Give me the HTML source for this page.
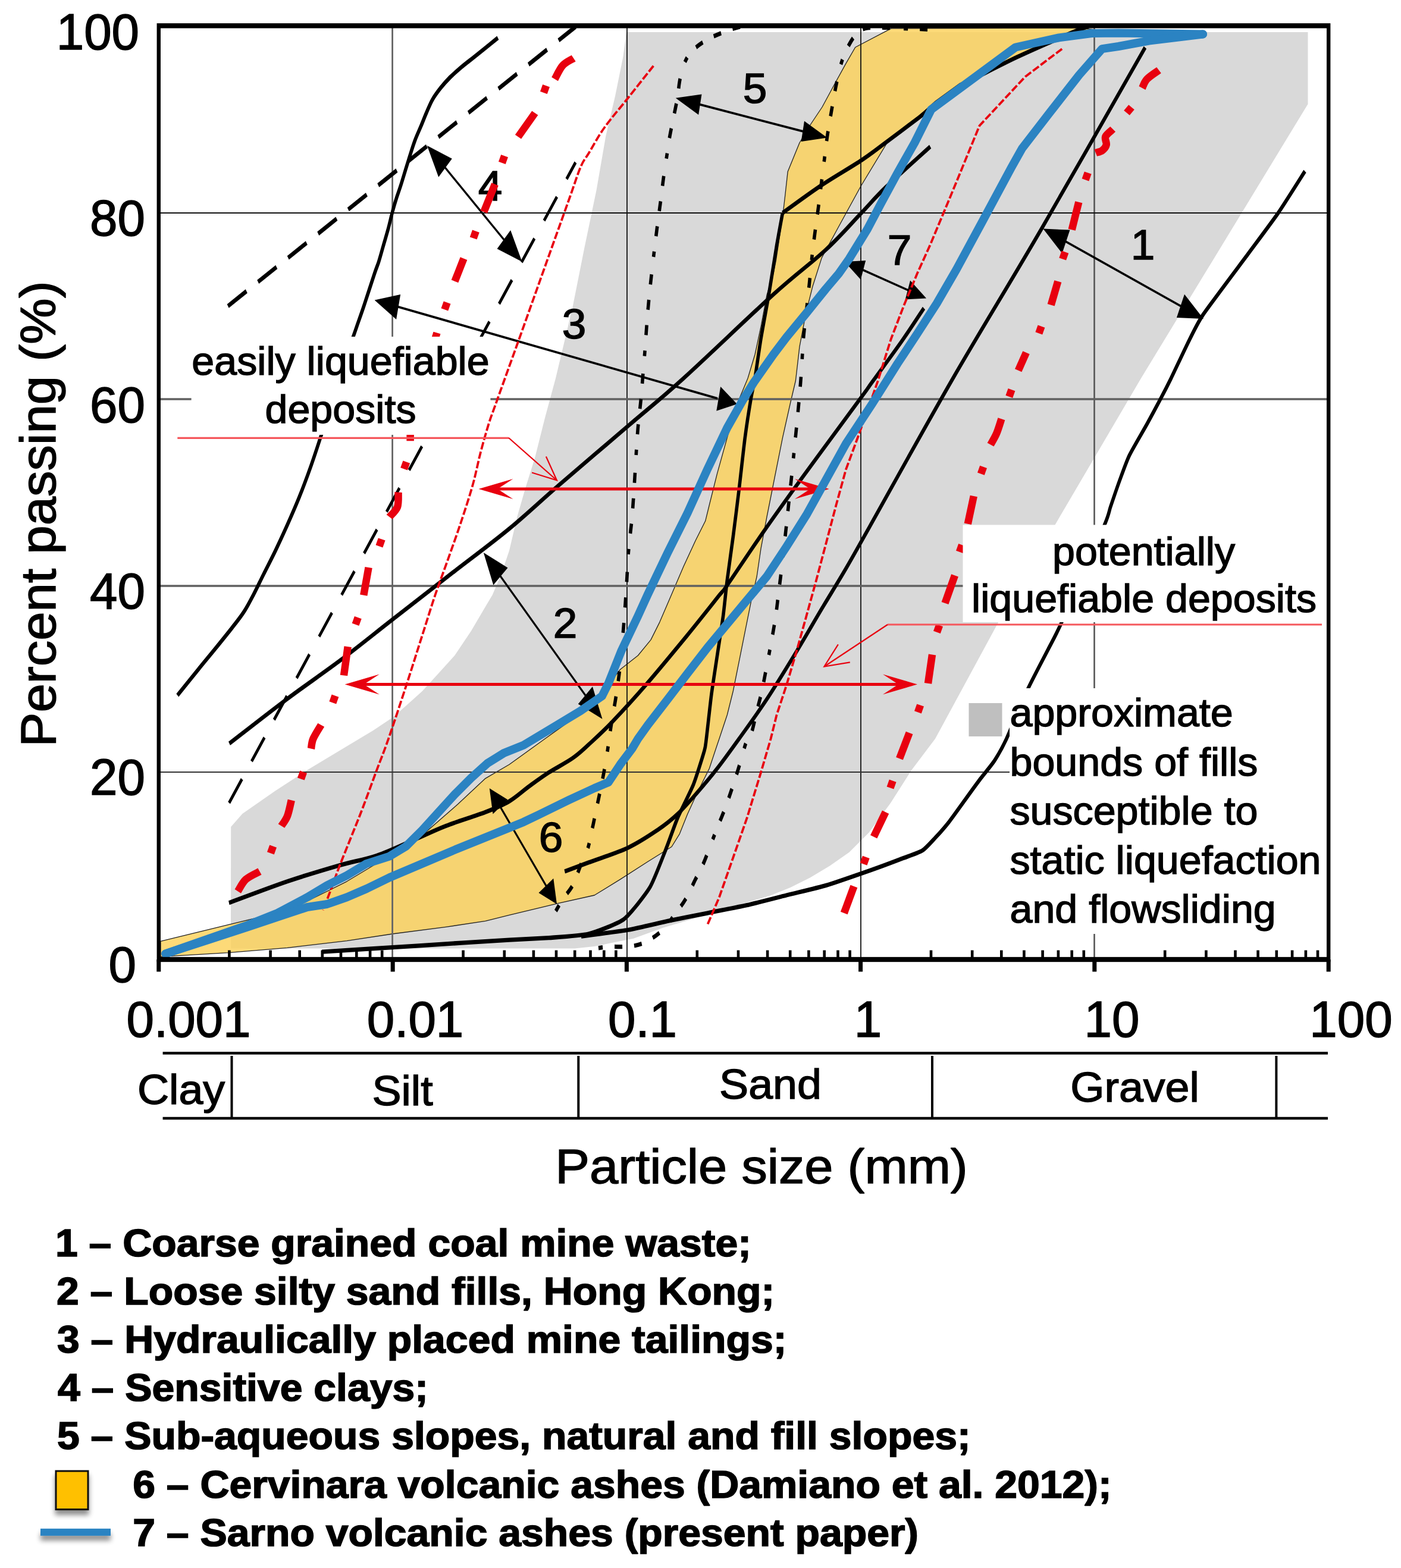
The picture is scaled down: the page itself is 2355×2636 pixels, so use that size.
<!DOCTYPE html>
<html lang="en">
<head>
<meta charset="utf-8">
<title>Grain size distribution - liquefiable deposits</title>
<style>
html,body{margin:0;padding:0;background:#fff;}
body{width:2355px;height:2636px;overflow:hidden;}
svg{display:block;}
text{font-family:"Liberation Sans",Arial,Helvetica,sans-serif;fill:#000;stroke:#000;stroke-width:1.5px;stroke-linejoin:miter;stroke-miterlimit:2;}
.b{font-weight:bold;stroke-width:1.7px;}
</style>
</head>
<body>
<svg width="2355" height="2636" viewBox="0 0 2355 2636">
<rect x="0" y="0" width="2355" height="2636" fill="#fff"/>
<polygon points="1053.0,54.0 2198.5,54.0 2198.5,175.0 1918.0,636.0 1773.4,882.4 1675.0,1052.0 1572.0,1242.0 1532.0,1295.0 1497.0,1350.0 1460.5,1399.8 1427.5,1432.8 1394.6,1455.8 1361.6,1475.6 1328.6,1492.0 1295.6,1505.3 1229.7,1525.0 1163.8,1544.9 1114.3,1559.7 1064.9,1577.8 998.9,1591.0 966.0,1594.5 388.0,1594.5 388.2,1390.0 407.5,1368.0 462.4,1329.7 517.4,1294.0 572.3,1261.0 627.3,1228.0 660.2,1206.0 682.2,1186.8 709.7,1162.0 737.1,1131.9 764.6,1101.6 792.1,1060.4 819.6,1013.7 827.8,1000.0 842.7,965.0 856.0,925.7 869.3,869.0 882.6,822.5 899.3,769.0 916.0,702.6 934.0,636.0 962.6,516.0 982.5,416.0 1002.5,320.0 1018.5,227.7 1034.0,161.8 1047.3,96.0" fill="#d9d9d9"/>
<polygon points="270.0,1582.3 429.8,1543.4 516.4,1515.0 583.0,1481.8 649.6,1441.8 716.2,1398.5 769.5,1352.0 816.0,1308.6 856.0,1285.3 916.0,1242.0 939.2,1225.4 972.5,1202.0 1002.5,1175.5 1019.2,1155.5 1042.5,1125.5 1072.4,1102.0 1094.0,1075.6 1109.0,1045.6 1129.0,999.0 1149.0,952.3 1169.0,909.0 1185.7,875.8 1192.3,849.0 1205.6,795.8 1222.3,735.9 1239.0,679.3 1257.0,636.0 1269.0,596.0 1279.0,549.5 1289.0,496.0 1300.0,459.8 1304.4,437.8 1311.0,393.8 1316.5,356.5 1319.8,328.0 1324.2,288.4 1344.0,240.0 1362.0,210.0 1382.0,180.0 1402.0,143.0 1422.0,106.6 1437.7,79.5 1498.0,47.9 1808.0,47.0 1844.0,50.0 1808.6,52.0 1764.6,68.5 1709.7,93.2 1654.7,120.7 1613.5,140.0 1572.3,170.0 1544.8,194.8 1491.2,240.0 1447.3,312.5 1409.9,380.7 1381.3,433.4 1365.9,481.8 1354.9,525.7 1344.0,582.9 1337.4,640.0 1328.9,676.0 1315.5,735.9 1302.2,802.5 1289.0,869.0 1279.0,922.4 1272.2,969.0 1262.3,1012.3 1252.3,1062.2 1242.3,1112.2 1232.3,1162.0 1222.3,1202.0 1209.0,1242.0 1205.6,1252.0 1192.3,1292.0 1172.4,1332.0 1155.7,1368.5 1142.4,1401.8 1129.0,1423.5 1089.0,1448.5 1042.5,1478.4 999.2,1505.0 939.2,1518.4 856.0,1538.4 816.0,1548.4 749.5,1558.4 659.6,1570.0 583.0,1581.7 483.0,1593.3 383.2,1601.6 270.0,1608.3" fill="#fcd156" fill-opacity="0.8" stroke="#222" stroke-width="1.3" stroke-linejoin="round"/>
<line x1="659.6" y1="43.3" x2="659.6" y2="1613.0" stroke="#666" stroke-width="2.8"/>
<line x1="1054.0" y1="43.3" x2="1054.0" y2="1613.0" stroke="#111" stroke-width="1.8"/>
<line x1="1447.0" y1="43.3" x2="1447.0" y2="1613.0" stroke="#111" stroke-width="1.8"/>
<line x1="1839.5" y1="43.3" x2="1839.5" y2="1613.0" stroke="#555" stroke-width="2.6"/>
<line x1="266.8" y1="358.0" x2="2233.2" y2="358.0" stroke="#111" stroke-width="1.9"/>
<line x1="266.8" y1="671.0" x2="2233.2" y2="671.0" stroke="#606060" stroke-width="3.4"/>
<line x1="266.8" y1="985.0" x2="2233.2" y2="985.0" stroke="#606060" stroke-width="3.4"/>
<line x1="266.8" y1="1298.0" x2="2233.2" y2="1298.0" stroke="#333" stroke-width="2.1"/>
<path transform="scale(1 1.3)" d="M836.9 48.9 C833.3 51.2 822.1 58.2 815.2 62.5 C808.3 66.7 802.1 70.6 795.6 74.6 C789.1 78.6 782.5 82.3 776.0 86.6 C769.5 90.9 762.2 95.7 756.3 100.2 C750.4 104.8 745.5 109.1 740.6 113.8 C735.7 118.6 730.8 123.6 726.9 128.9 C723.0 134.2 720.3 139.7 717.0 145.5 C713.7 151.3 710.6 157.7 707.3 163.7 C704.0 169.7 700.3 175.7 697.4 181.8 C694.5 187.8 692.2 193.7 689.6 200.0 C687.0 206.3 684.3 213.0 681.7 219.5 C679.1 226.1 676.5 232.9 673.9 239.2 C671.3 245.5 668.5 251.3 666.0 257.3 C663.5 263.3 661.5 268.8 659.2 275.4 C656.9 281.9 654.8 289.6 652.3 296.6 C649.8 303.7 647.0 310.7 644.4 317.7 C641.8 324.7 639.1 332.4 636.6 338.5 C634.1 344.5 633.6 344.4 629.5 353.8 C625.4 363.3 616.7 384.1 611.8 395.4 C606.9 406.7 603.1 414.6 600.0 421.5 C596.9 428.5 594.2 434.4 593.0 436.9" fill="none" stroke="#000" stroke-width="5.6" />
<path transform="scale(1 1.3)" d="M542.0 558.5 C541.6 559.3 542.9 556.3 539.7 563.5 C536.5 570.8 529.1 588.7 523.0 601.9 C516.9 615.2 509.7 630.1 503.0 642.9 C496.3 655.7 489.7 667.2 483.0 678.8 C476.3 690.3 469.7 701.4 463.0 712.1 C456.3 722.8 449.1 733.4 443.0 742.8 C436.9 752.2 432.0 760.3 426.5 768.5 C421.0 776.6 415.9 784.3 409.8 791.5 C403.7 798.8 397.7 804.3 389.9 812.0 C382.1 819.7 372.6 828.7 363.2 837.6 C353.8 846.6 344.0 855.5 333.2 865.8 C322.4 876.0 304.1 893.5 298.3 899.1" fill="none" stroke="#000" stroke-width="5.6" />
<path transform="scale(1 1.3)" d="M1830.5 33.6 C1826.8 34.7 1819.6 36.5 1808.6 40.0 C1797.6 43.5 1781.1 49.1 1764.6 54.8 C1748.1 60.4 1728.0 67.2 1709.7 73.8 C1691.4 80.5 1670.7 88.6 1654.7 94.9 C1638.7 101.3 1627.2 105.2 1613.5 111.8 C1599.8 118.5 1583.8 128.4 1572.3 135.1 C1560.8 141.8 1558.5 143.9 1544.8 152.0 C1531.1 160.1 1505.9 174.5 1489.9 183.7 C1473.9 192.8 1467.0 197.5 1448.7 206.9 C1430.4 216.3 1402.2 228.6 1380.0 240.0 C1357.8 251.4 1326.2 269.5 1315.5 275.4" fill="none" stroke="#000" stroke-width="5.6" />
<path transform="scale(1 1.3)" d="M1315.5 275.4 C1314.5 279.6 1307.8 307.1 1305.5 317.7 C1303.2 328.3 1294.9 369.5 1292.2 381.5 C1289.5 393.6 1281.3 427.3 1279.0 438.1 C1276.7 448.8 1270.7 481.5 1269.0 489.2 C1267.3 497.0 1264.0 507.7 1262.3 515.4 C1260.6 523.1 1254.3 554.3 1252.3 566.1 C1250.3 577.8 1244.3 619.9 1242.3 632.7 C1240.3 645.5 1234.3 682.4 1232.3 694.2 C1230.3 705.9 1224.0 740.3 1222.3 750.5 C1220.6 760.8 1217.3 786.9 1215.6 796.6 C1213.9 806.3 1207.6 837.6 1205.6 847.8 C1203.6 858.1 1197.5 888.3 1195.7 899.1 C1193.9 909.8 1188.5 948.2 1187.3 955.4 C1186.1 962.6 1186.2 964.9 1184.0 970.8 C1181.8 976.7 1170.2 1005.6 1165.7 1014.3 C1161.2 1023.0 1143.7 1049.4 1139.0 1057.8 C1134.3 1066.3 1123.7 1089.9 1119.0 1098.8 C1114.3 1107.8 1099.4 1138.5 1092.4 1147.5 C1085.4 1156.4 1059.3 1182.4 1049.0 1188.5 C1038.7 1194.5 1001.8 1205.3 989.2 1207.7 C976.6 1210.1 935.9 1212.0 922.6 1212.8 C909.3 1213.5 878.3 1214.4 856.0 1215.4 C833.7 1216.4 731.5 1221.5 700.0 1223.1 C668.5 1224.6 556.9 1230.0 541.0 1230.8" fill="none" stroke="#000" stroke-width="5.6" stroke-linejoin="round"/>
<path transform="scale(1 1.3)" d="M385.5 961.5 C401.5 952.0 450.5 922.4 481.6 904.5 C512.7 886.5 542.5 871.0 572.3 853.8 C602.1 836.5 629.2 819.5 660.2 800.9 C691.2 782.3 725.4 761.8 758.0 742.3 C790.6 722.8 825.8 703.0 856.0 683.8 C886.2 664.7 906.0 649.7 939.3 627.5 C972.6 605.4 1020.8 573.8 1055.8 550.8 C1090.8 527.7 1108.3 517.6 1149.0 489.2 C1189.7 460.9 1260.2 408.4 1300.0 380.8 C1339.8 353.1 1363.4 340.7 1387.9 323.2 C1412.5 305.8 1430.5 289.4 1447.3 275.9 C1464.1 262.4 1469.6 256.4 1489.0 242.1 C1508.4 227.7 1551.2 198.4 1563.7 189.7" fill="none" stroke="#000" stroke-width="5.6" />
<path transform="scale(1 1.3)" d="M384.9 1167.5 C401.2 1162.9 452.2 1147.9 483.0 1139.8 C513.8 1131.8 544.7 1124.8 569.7 1119.2 C594.7 1113.7 611.9 1112.1 633.0 1106.5 C654.1 1101.0 676.8 1092.4 696.2 1086.0 C715.6 1079.6 729.5 1074.1 749.5 1068.1 C769.5 1062.1 798.2 1055.5 816.0 1050.2 C833.8 1044.8 843.8 1041.7 856.0 1036.2 C868.2 1030.6 878.2 1023.1 889.3 1016.9 C900.4 1010.7 910.4 1005.0 922.6 998.9 C934.8 992.9 951.3 986.5 962.4 980.5 C973.5 974.6 978.2 970.8 989.2 963.1 C1000.2 955.3 1012.3 947.0 1028.4 934.1 C1044.5 921.1 1065.0 904.1 1086.0 885.4 C1107.0 866.7 1134.1 841.4 1154.7 822.1 C1175.3 802.7 1198.4 780.1 1209.7 769.2 C1221.0 758.4 1210.2 770.3 1222.3 756.9 C1234.4 743.6 1261.1 712.3 1282.2 689.0 C1303.3 665.7 1321.5 646.2 1348.8 617.3 C1376.1 588.4 1426.3 536.3 1446.0 515.6 C1465.7 494.9 1455.1 505.8 1467.0 493.1 C1478.9 480.4 1503.1 455.3 1517.4 439.5 C1531.7 423.8 1547.1 405.3 1553.0 398.5" fill="none" stroke="#000" stroke-width="5.6" />
<path transform="scale(1 1.3)" d="M1924.9 61.5 C1896.0 100.4 1805.5 223.3 1751.7 294.6 C1697.9 365.9 1650.2 424.9 1601.9 489.2 C1553.6 553.6 1492.0 639.8 1462.0 680.8 C1432.0 721.8 1435.3 717.6 1422.0 735.2 C1408.7 752.8 1395.9 768.5 1382.0 786.4 C1368.1 804.3 1354.3 823.1 1338.8 842.7 C1323.3 862.3 1305.1 885.4 1289.0 904.2 C1272.9 923.0 1256.2 940.4 1242.3 955.4 C1228.4 970.3 1217.2 982.3 1205.6 993.8 C1193.9 1005.4 1183.5 1014.8 1172.4 1024.6 C1161.3 1034.4 1150.1 1044.6 1139.0 1052.7 C1127.9 1060.8 1119.7 1065.8 1105.8 1073.1 C1091.9 1080.3 1075.2 1089.1 1055.8 1096.2 C1036.4 1103.2 1007.0 1110.3 989.2 1115.4 C971.4 1120.5 955.9 1125.0 949.2 1126.9" fill="none" stroke="#000" stroke-width="5.6" />
<path transform="scale(1 1.3)" d="M2193.5 221.5 C2189.0 226.9 2158.1 264.8 2148.6 275.4 C2139.1 286.0 2111.3 314.5 2098.6 327.7 C2085.9 340.9 2032.3 395.5 2022.0 407.3 C2011.7 419.1 2000.8 437.5 1995.4 445.7 C1990.1 453.9 1972.9 482.3 1968.5 489.2 C1964.1 496.1 1955.5 509.0 1951.5 514.8 C1947.5 520.7 1933.5 540.7 1928.2 548.2 C1922.9 555.6 1902.9 581.7 1898.2 589.2 C1893.5 596.6 1884.8 615.7 1881.6 622.3 C1878.4 629.0 1869.1 650.0 1866.6 655.7 C1864.1 661.3 1864.9 663.6 1856.6 678.8 C1848.3 693.9 1792.8 790.8 1783.3 806.9 C1773.8 823.0 1767.2 831.7 1761.7 840.0 C1756.2 848.3 1735.4 878.5 1728.4 890.0 C1721.4 901.5 1697.5 946.0 1691.8 955.4 C1686.1 964.7 1676.1 978.4 1671.8 983.5 C1667.5 988.7 1653.5 1001.5 1648.5 1006.6 C1643.5 1011.7 1627.1 1029.1 1621.8 1034.8 C1616.5 1040.4 1600.2 1058.1 1595.2 1062.9 C1590.2 1067.8 1576.5 1079.8 1572.0 1083.5 C1567.5 1087.2 1556.2 1097.2 1550.2 1100.0 C1544.2 1102.8 1520.8 1109.0 1512.0 1111.5 C1503.2 1114.1 1474.3 1122.4 1462.0 1125.7 C1449.7 1129.0 1402.8 1141.7 1388.8 1144.9 C1374.8 1148.1 1335.3 1155.1 1322.0 1157.7 C1308.7 1160.3 1268.9 1168.2 1255.6 1170.5 C1242.3 1172.8 1202.3 1178.7 1189.0 1180.8 C1175.7 1182.8 1135.7 1188.9 1122.4 1191.1 C1109.1 1193.3 1070.3 1200.6 1055.8 1202.5 C1041.3 1204.5 984.9 1209.9 977.0 1210.8" fill="none" stroke="#000" stroke-width="5.6" stroke-linejoin="round"/>
<path transform="scale(1 1.3)" d="M383.2 395.8 L967.5 34.6" fill="none" stroke="#000" stroke-width="5.7" stroke-dasharray="36.6 22.8"/>
<path transform="scale(1 1.3)" d="M967.5 210.0 L384.9 1038.6" fill="none" stroke="#000" stroke-width="4.5" stroke-dasharray="37.6 28.15" stroke-dashoffset="11.3"/>
<path transform="scale(1 1.3)" d="M1244.0 34.6 C1240.4 35.5 1231.5 36.9 1222.3 39.7 C1213.1 42.5 1199.0 46.7 1189.0 51.2 C1179.0 55.7 1169.1 61.1 1162.4 66.6 C1155.7 72.2 1152.3 78.2 1149.0 84.6 C1145.7 91.0 1144.1 98.3 1142.4 105.1 C1140.7 111.9 1140.7 117.9 1139.0 125.5 C1137.3 133.2 1134.6 142.6 1132.4 151.2 C1130.2 159.7 1127.7 168.2 1125.7 176.8 C1123.8 185.3 1122.4 193.8 1120.7 202.3 C1119.0 210.8 1117.4 218.6 1115.7 228.0 C1114.0 237.4 1112.4 248.9 1110.7 258.8 C1109.0 268.6 1107.5 277.1 1105.8 286.9 C1104.1 296.7 1102.5 307.1 1100.8 317.7 C1099.1 328.3 1097.5 339.2 1095.8 350.8 C1094.1 362.3 1092.2 375.8 1090.8 386.9 C1089.4 398.1 1088.5 406.6 1087.4 417.7 C1086.3 428.8 1085.2 442.3 1084.1 453.4 C1083.0 464.5 1081.9 473.7 1080.8 484.2 C1079.7 494.6 1078.8 504.7 1077.4 516.2 C1076.0 527.6 1073.8 540.5 1072.4 553.1 C1071.0 565.6 1070.1 578.3 1069.0 591.5 C1067.9 604.8 1066.9 619.9 1065.8 632.7 C1064.7 645.5 1063.6 658.3 1062.5 668.5 C1061.4 678.7 1060.1 685.3 1059.0 693.8 C1057.9 702.4 1056.6 711.2 1055.8 719.8 C1055.0 728.4 1054.8 734.7 1054.0 745.4 C1053.2 756.1 1051.9 771.9 1050.8 783.8 C1049.7 795.8 1048.9 804.1 1047.5 816.9 C1046.1 829.7 1044.5 847.1 1042.5 860.8 C1040.5 874.5 1038.0 887.6 1035.8 899.1 C1033.5 910.6 1031.0 920.5 1029.0 929.8 C1027.0 939.2 1025.6 946.9 1024.0 955.4 C1022.4 963.9 1021.1 972.0 1019.2 981.0 C1017.3 990.0 1015.0 999.4 1012.5 1009.2 C1010.0 1019.1 1007.0 1029.8 1004.2 1040.0 C1001.4 1050.2 998.7 1060.8 995.9 1070.6 C993.1 1080.4 990.8 1090.7 987.5 1098.8 C984.2 1106.9 980.0 1111.6 975.9 1119.2 C971.8 1126.9 967.6 1137.7 962.6 1144.9 C957.6 1152.2 950.6 1157.3 945.9 1162.8 C941.2 1168.4 936.2 1175.7 934.3 1178.2" fill="none" stroke="#000" stroke-width="5.6" stroke-dasharray="13 20 13 20 13 20 7 23"/>
<path transform="scale(1 1.3)" d="M1572.0 38.5 C1564.7 38.2 1546.3 37.4 1528.0 36.9 C1509.7 36.5 1476.6 34.9 1462.4 35.8 C1448.2 36.6 1448.5 38.9 1443.0 42.1 C1437.5 45.2 1434.0 48.8 1429.5 54.8 C1425.0 60.8 1419.7 68.8 1415.7 78.0 C1411.7 87.2 1408.6 98.8 1405.5 110.2 C1402.4 121.5 1399.6 134.9 1397.1 146.0 C1394.6 157.1 1392.4 166.5 1390.5 176.8 C1388.6 187.0 1387.2 197.3 1385.5 207.5 C1383.8 217.8 1382.2 228.0 1380.5 238.2 C1378.8 248.5 1377.2 259.2 1375.5 269.0 C1373.8 278.8 1372.2 287.3 1370.5 297.2 C1368.8 307.0 1367.2 316.4 1365.5 327.9 C1363.8 339.4 1362.2 353.9 1360.5 366.3 C1358.8 378.7 1357.2 390.2 1355.5 402.2 C1353.8 414.1 1351.9 425.3 1350.5 438.1 C1349.1 450.9 1348.3 466.6 1347.2 479.0 C1346.1 491.4 1345.2 500.0 1343.8 512.3 C1342.4 524.7 1340.5 539.9 1338.8 553.1 C1337.1 566.3 1335.2 580.8 1333.8 591.5 C1332.4 602.2 1331.9 607.1 1330.5 617.3 C1329.1 627.6 1326.9 642.8 1325.5 653.1 C1324.1 663.3 1323.4 668.9 1322.0 678.8 C1320.6 688.6 1318.5 702.7 1317.2 712.1 C1315.9 721.5 1315.3 726.2 1313.9 735.2 C1312.5 744.1 1310.6 755.6 1308.9 765.8 C1307.2 776.1 1305.9 786.4 1303.9 796.6 C1302.0 806.9 1299.7 816.7 1297.2 827.4 C1294.7 838.1 1291.8 849.6 1289.0 860.7 C1286.2 871.8 1283.4 884.0 1280.6 893.8 C1277.8 903.7 1275.2 910.2 1272.2 919.6 C1269.2 929.0 1265.3 943.5 1262.3 950.3 C1259.3 957.1 1257.3 953.7 1254.0 960.5 C1250.7 967.4 1246.2 981.4 1242.3 991.2 C1238.4 1001.0 1234.5 1010.4 1230.6 1019.4 C1226.7 1028.3 1223.2 1036.5 1219.0 1045.0 C1214.8 1053.5 1209.8 1062.5 1205.6 1070.6 C1201.4 1078.7 1197.9 1086.0 1194.0 1093.7 C1190.1 1101.4 1186.5 1109.5 1182.3 1116.8 C1178.1 1124.0 1174.0 1129.6 1169.0 1137.2 C1164.0 1144.9 1158.0 1155.6 1152.4 1162.8 C1146.9 1170.1 1141.8 1174.4 1135.7 1180.8 C1129.6 1187.2 1123.5 1195.3 1115.7 1201.3 C1107.9 1207.3 1097.3 1213.1 1089.0 1216.7 C1080.7 1220.3 1073.0 1221.8 1065.8 1223.1 C1058.6 1224.3 1053.0 1224.1 1045.8 1224.3 C1038.6 1224.5 1030.3 1223.9 1022.5 1224.3 C1014.7 1224.7 1003.1 1226.5 999.2 1226.9" fill="none" stroke="#000" stroke-width="5.6" stroke-dasharray="13 20 13 20 7 23 13 20" stroke-dashoffset="20"/>
<g transform="scale(1 1.3)"><line x1="742.4" y1="211.3" x2="853.0" y2="315.4" stroke="#000" stroke-width="2.9"/><polygon points="717.9,188.3 737.2,229.1 759.8,205.1" fill="#000"/><polygon points="877.5,338.5 835.6,321.7 858.2,297.7" fill="#000"/></g>
<g transform="scale(1 1.3)"><line x1="662.4" y1="395.3" x2="1206.2" y2="515.3" stroke="#000" stroke-width="2.9"/><polygon points="629.6,388.1 666.1,413.0 673.2,380.8" fill="#000"/><polygon points="1239.0,522.5 1204.3,531.3 1211.2,500.0" fill="#000"/></g>
<g transform="scale(1 1.3)"><line x1="1168.6" y1="133.5" x2="1357.6" y2="171.5" stroke="#000" stroke-width="2.9"/><polygon points="1135.7,126.8 1174.2,148.4 1179.5,121.9" fill="#000"/><polygon points="1390.5,178.1 1346.7,183.0 1352.0,156.6" fill="#000"/></g>
<g transform="scale(1 1.3)"><line x1="1444.8" y1="347.1" x2="1532.1" y2="377.2" stroke="#000" stroke-width="2.9"/><polygon points="1419.8,338.5 1446.8,361.5 1455.2,336.9" fill="#000"/><polygon points="1557.1,385.8 1521.7,387.3 1530.1,362.7" fill="#000"/></g>
<g transform="scale(1 1.3)"><line x1="1784.2" y1="309.2" x2="1992.2" y2="399.0" stroke="#000" stroke-width="2.9"/><polygon points="1753.4,295.8 1785.4,327.6 1798.5,297.4" fill="#000"/><polygon points="2023.0,412.3 1977.9,410.8 1991.0,380.5" fill="#000"/></g>
<g transform="scale(1 1.3)"><line x1="835.7" y1="739.2" x2="989.6" y2="905.2" stroke="#000" stroke-width="2.9"/><polygon points="812.8,714.6 829.3,756.6 853.5,734.2" fill="#000"/><polygon points="1012.5,929.8 971.8,910.3 996.0,887.8" fill="#000"/></g>
<g transform="scale(1 1.3)"><line x1="837.3" y1="1038.6" x2="921.5" y2="1150.1" stroke="#000" stroke-width="2.9"/><polygon points="822.8,1019.5 828.5,1052.7 853.3,1034.0" fill="#000"/><polygon points="936.0,1169.2 905.5,1154.6 930.3,1136.0" fill="#000"/></g>
<text transform="translate(824.0 337.0) scale(1 0.965)" font-size="73" text-anchor="middle">4</text>
<text transform="translate(965.0 569.0) scale(1 0.965)" font-size="73" text-anchor="middle">3</text>
<text transform="translate(1269.0 173.0) scale(1 0.965)" font-size="73" text-anchor="middle">5</text>
<text transform="translate(1512.0 444.6) scale(1 0.965)" font-size="73" text-anchor="middle">7</text>
<text transform="translate(1921.0 436.0) scale(1 0.965)" font-size="73" text-anchor="middle">1</text>
<text transform="translate(950.0 1072.0) scale(1 0.965)" font-size="73" text-anchor="middle">2</text>
<text transform="translate(926.0 1431.8) scale(1 0.965)" font-size="73" text-anchor="middle">6</text>
<path d="M964.2 98.0 C961.2 100.0 951.2 104.2 945.9 110.0 C940.6 115.8 934.8 129.2 932.6 133.0" fill="none" stroke="#e8000f" stroke-width="12.5" />
<path d="M913.9 155.9 L918.1 144.1" fill="none" stroke="#e8000f" stroke-width="12.5" />
<path d="M899.3 190.0 L871.0 230.0" fill="none" stroke="#e8000f" stroke-width="12.5" />
<path d="M843.9 273.9 L848.1 262.1" fill="none" stroke="#e8000f" stroke-width="12.5" />
<path d="M832.0 309.7 L813.3 356.3" fill="none" stroke="#e8000f" stroke-width="12.5" />
<path d="M795.7 400.5 L799.9 388.7" fill="none" stroke="#e8000f" stroke-width="12.5" />
<path d="M779.5 434.6 L764.5 472.9" fill="none" stroke="#e8000f" stroke-width="12.5" />
<path d="M747.4 520.4 L751.6 508.6" fill="none" stroke="#e8000f" stroke-width="12.5" />
<path d="M734.5 559.5 L725.0 590.0" fill="none" stroke="#e8000f" stroke-width="12.5" />
<path d="M683.4 735.0 L695.9 735.0" fill="none" stroke="#e8000f" stroke-width="12.5" />
<path d="M679.1 788.4 L683.3 776.6" fill="none" stroke="#e8000f" stroke-width="12.5" />
<path d="M669.6 827.5 C669.3 831.6 670.5 845.5 668.0 852.4 C665.5 859.3 656.8 866.2 654.6 869.0" fill="none" stroke="#e8000f" stroke-width="12.5" />
<path d="M637.5 918.3 L641.7 906.5" fill="none" stroke="#e8000f" stroke-width="12.5" />
<path d="M619.6 954.0 L611.3 1000.6" fill="none" stroke="#e8000f" stroke-width="12.5" />
<path d="M597.6 1049.9 L601.8 1038.1" fill="none" stroke="#e8000f" stroke-width="12.5" />
<path d="M584.7 1087.2 L578.0 1135.5" fill="none" stroke="#e8000f" stroke-width="12.5" />
<path d="M559.3 1181.4 L563.5 1169.6" fill="none" stroke="#e8000f" stroke-width="12.5" />
<path d="M539.7 1218.7 C537.5 1222.6 529.2 1235.3 526.4 1242.0 C523.6 1248.7 523.6 1255.8 523.0 1258.6" fill="none" stroke="#e8000f" stroke-width="12.5" />
<path d="M505.9 1309.5 L510.1 1297.7" fill="none" stroke="#e8000f" stroke-width="12.5" />
<path d="M489.8 1345.2 C488.7 1349.7 485.8 1364.8 483.0 1372.0 C480.2 1379.2 474.7 1385.8 473.0 1388.5" fill="none" stroke="#e8000f" stroke-width="12.5" />
<path d="M454.9 1434.4 L459.1 1422.6" fill="none" stroke="#e8000f" stroke-width="12.5" />
<path d="M436.5 1465.0 C432.6 1467.2 419.3 1472.8 413.2 1478.4 C407.1 1484.0 402.0 1495.1 399.8 1498.4" fill="none" stroke="#e8000f" stroke-width="12.5" />
<path d="M1948.0 118.0 C1944.7 120.5 1932.7 128.0 1928.0 133.0 C1923.3 138.0 1921.3 145.5 1920.0 148.0" fill="none" stroke="#e8000f" stroke-width="12.5" />
<path d="M1894.0 189.8 L1902.0 180.2" fill="none" stroke="#e8000f" stroke-width="12.5" />
<path d="M1870.7 217.2 C1868.6 219.3 1860.1 225.2 1858.3 229.6 C1856.5 233.9 1860.6 239.4 1859.7 243.3 C1858.8 247.2 1855.8 250.7 1852.8 253.0 C1849.8 255.3 1843.6 256.3 1841.8 257.0" fill="none" stroke="#e8000f" stroke-width="12.5" />
<path d="M1824.5 302.3 L1828.7 290.5" fill="none" stroke="#e8000f" stroke-width="12.5" />
<path d="M1813.3 339.7 L1801.7 386.3" fill="none" stroke="#e8000f" stroke-width="12.5" />
<path d="M1786.2 435.5 L1790.4 423.7" fill="none" stroke="#e8000f" stroke-width="12.5" />
<path d="M1778.3 472.9 L1766.7 512.8" fill="none" stroke="#e8000f" stroke-width="12.5" />
<path d="M1746.3 560.4 L1750.5 548.6" fill="none" stroke="#e8000f" stroke-width="12.5" />
<path d="M1725.0 592.7 L1711.7 622.7" fill="none" stroke="#e8000f" stroke-width="12.5" />
<path d="M1696.3 666.9 L1700.5 655.1" fill="none" stroke="#e8000f" stroke-width="12.5" />
<path d="M1683.4 704.3 C1682.0 708.4 1678.1 721.8 1675.0 729.0 C1671.9 736.2 1666.7 744.5 1665.0 747.6" fill="none" stroke="#e8000f" stroke-width="12.5" />
<path d="M1648.9 796.7 L1653.1 784.9" fill="none" stroke="#e8000f" stroke-width="12.5" />
<path d="M1636.8 834.0 L1626.8 880.8" fill="none" stroke="#e8000f" stroke-width="12.5" />
<path d="M1612.9 927.9 L1617.1 916.1" fill="none" stroke="#e8000f" stroke-width="12.5" />
<path d="M1605.0 967.3 L1588.5 1014.0" fill="none" stroke="#e8000f" stroke-width="12.5" />
<path d="M1574.9 1062.9 L1579.1 1051.1" fill="none" stroke="#e8000f" stroke-width="12.5" />
<path d="M1567.0 1100.5 L1560.0 1148.8" fill="none" stroke="#e8000f" stroke-width="12.5" />
<path d="M1542.9 1197.3 L1547.1 1185.5" fill="none" stroke="#e8000f" stroke-width="12.5" />
<path d="M1528.6 1232.0 L1512.0 1275.3" fill="none" stroke="#e8000f" stroke-width="12.5" />
<path d="M1496.5 1324.5 L1500.7 1312.7" fill="none" stroke="#e8000f" stroke-width="12.5" />
<path d="M1488.6 1365.2 L1468.7 1406.8" fill="none" stroke="#e8000f" stroke-width="12.5" />
<path d="M1451.6 1452.7 L1455.8 1440.9" fill="none" stroke="#e8000f" stroke-width="12.5" />
<path d="M1435.4 1490.0 L1418.8 1535.0" fill="none" stroke="#e8000f" stroke-width="12.5" />
<rect x="321.6" y="566" width="502.8" height="165" fill="#fff"/>
<rect x="1618.5" y="882.4" width="611.5" height="163.6" fill="#fff"/>
<rect x="1697" y="1157" width="533" height="413" fill="#fff"/>
<rect x="1628.5" y="1182" width="56" height="56" fill="#bfbfbf"/>
<text transform="translate(572.5 630.0) scale(1 0.965)" font-size="68.2" text-anchor="middle">easily liquefiable</text>
<text transform="translate(572.5 711.0) scale(1 0.965)" font-size="68.2" text-anchor="middle">deposits</text>
<text transform="translate(1922.5 949.5) scale(1 0.965)" font-size="68.2" text-anchor="middle">potentially</text>
<text transform="translate(1923.0 1028.5) scale(1 0.965)" font-size="68.2" text-anchor="middle">liquefiable deposits</text>
<text transform="translate(1697.5 1221.0) scale(1 0.965)" font-size="68.2" text-anchor="start">approximate</text>
<text transform="translate(1697.5 1303.5) scale(1 0.965)" font-size="68.2" text-anchor="start">bounds of fills</text>
<text transform="translate(1697.5 1386.0) scale(1 0.965)" font-size="68.2" text-anchor="start">susceptible to</text>
<text transform="translate(1697.5 1468.5) scale(1 0.965)" font-size="68.2" text-anchor="start">static liquefaction</text>
<text transform="translate(1697.5 1551.0) scale(1 0.965)" font-size="68.2" text-anchor="start">and flowsliding</text>
<path d="M1098.4 110.7 C1091.5 119.4 1070.7 145.7 1057.0 163.0 C1043.3 180.3 1027.2 198.8 1016.0 214.5 C1004.8 230.2 996.6 246.1 990.0 257.0 C983.4 267.9 981.6 267.8 976.3 280.0 C971.0 292.2 964.4 313.3 958.4 330.0 C952.4 346.7 949.5 355.0 940.5 380.0 C931.5 405.0 916.6 446.7 904.7 480.0 C892.8 513.3 881.0 546.7 869.0 580.0 C857.0 613.3 840.8 658.2 833.0 680.0 C825.2 701.8 826.2 697.7 822.0 711.0 C817.8 724.3 812.6 742.4 808.0 760.0 C803.4 777.6 799.9 796.7 794.3 816.5 C788.7 836.3 781.6 857.6 774.5 879.0 C767.4 900.4 758.5 924.8 751.4 945.0 C744.2 965.2 738.6 979.3 731.6 1000.0 C724.6 1020.7 717.6 1043.7 709.5 1069.0 C701.4 1094.3 692.4 1123.2 683.0 1152.0 C673.6 1180.8 661.3 1218.1 653.0 1242.0 C644.7 1265.9 640.2 1275.9 633.0 1295.3 C625.8 1314.7 616.8 1339.6 609.6 1358.5 C602.4 1377.4 596.4 1391.8 589.7 1408.5 C583.1 1425.2 575.2 1444.1 569.7 1458.5 C564.2 1472.9 560.9 1483.1 556.4 1495.0 C551.9 1506.9 545.2 1524.2 543.0 1530.0" fill="none" stroke="#e8000f" stroke-width="3.8" stroke-dasharray="12.5 3.8"/>
<path d="M1785.2 82.2 L1723.4 128.9 L1646.5 211.3 L1627.3 258.0 L1607.7 306.0 L1585.7 358.7 L1563.7 411.4 L1541.8 459.8 L1519.8 512.5 L1497.8 569.7 L1475.8 640.0 L1460.0 685.0 L1442.0 735.0 L1422.0 789.2 L1405.5 849.0 L1388.8 912.4 L1372.0 975.7 L1355.5 1035.6 L1338.8 1095.5 L1322.0 1152.0 L1305.5 1202.0 L1295.6 1242.0 L1279.0 1298.6 L1255.6 1375.2 L1232.3 1441.8 L1209.0 1508.4 L1189.0 1555.0" fill="none" stroke="#e8000f" stroke-width="3.8" stroke-dasharray="12.5 3.8" stroke-linejoin="round"/>
<line x1="824.5" y1="822.0" x2="1373.8" y2="822.0" stroke="#e8000f" stroke-width="5"/>
<polygon points="804.5,822.0 862.5,805.0 836.4,822.0 862.5,839.0" fill="#e8000f"/>
<polygon points="1393.8,822.0 1335.8,805.0 1361.9,822.0 1335.8,839.0" fill="#e8000f"/>
<line x1="599.7" y1="1150.5" x2="1522.0" y2="1150.5" stroke="#e8000f" stroke-width="5"/>
<polygon points="579.7,1150.5 637.7,1133.5 611.6,1150.5 637.7,1167.5" fill="#e8000f"/>
<polygon points="1542.0,1150.5 1484.0,1133.5 1510.1,1150.5 1484.0,1167.5" fill="#e8000f"/>
<path d="M298.3 736.3 L855.0 736.3" fill="none" stroke="#f5575c" stroke-width="3.2" />
<path d="M855.0 736.0 L936.0 807.5" fill="none" stroke="#e8000f" stroke-width="2.2" />
<path d="M894.1 794.5 L936.0 807.5 L917.9 767.5" fill="none" stroke="#e8000f" stroke-width="2.2" />
<path d="M1492.0 1050.0 L2222.0 1050.0" fill="none" stroke="#f5575c" stroke-width="3" />
<path d="M1492.0 1050.0 L1385.5 1120.5" fill="none" stroke="#e8000f" stroke-width="2.2" />
<path d="M1408.9 1083.4 L1385.5 1120.5 L1428.8 1113.4" fill="none" stroke="#e8000f" stroke-width="2.2" />
<path d="M278.3 1603.3 L349.9 1578.3 L416.5 1555.0 L466.5 1535.0 L516.4 1508.4 L549.7 1488.4 L583.0 1471.8 L616.3 1451.8 L654.7 1439.6 L682.2 1423.0 L709.7 1395.6 L737.1 1365.4 L764.6 1335.2 L792.1 1307.7 L819.6 1283.0 L847.0 1266.0 L880.0 1252.7 L935.0 1219.8 L976.0 1195.0 L1011.9 1170.3 L1022.9 1148.4 L1044.8 1093.4 L1072.3 1035.7 L1089.0 999.0 L1122.4 929.0 L1155.7 862.4 L1189.0 789.2 L1222.3 719.2 L1249.0 672.0 L1267.0 643.0 L1300.0 596.0 L1322.0 567.0 L1354.9 527.0 L1387.9 486.0 L1409.9 460.0 L1427.5 435.0 L1458.2 385.0 L1480.2 343.3 L1508.8 290.5 L1537.4 240.0 L1565.4 184.0 L1707.0 79.5 L1780.0 63.4 L1835.0 56.0 L1880.0 55.5 L2022.0 57.5" fill="none" stroke="#2b83c2" stroke-width="14" stroke-linejoin="round" stroke-linecap="round"/>
<path d="M278.3 1603.3 L349.9 1580.0 L416.5 1558.4 L466.5 1541.7 L516.4 1525.0 L549.7 1520.0 L583.0 1508.4 L616.3 1494.0 L654.7 1475.3 L764.6 1428.6 L880.0 1381.9 L906.0 1369.5 L956.0 1345.0 L999.2 1325.0 L1022.5 1315.3 L1042.5 1285.3 L1062.5 1258.6 L1072.4 1242.0 L1089.0 1218.7 L1122.4 1175.5 L1155.7 1132.0 L1189.0 1089.0 L1222.3 1049.0 L1255.6 1009.0 L1289.0 969.0 L1322.0 919.0 L1355.5 865.8 L1388.8 805.8 L1422.0 745.9 L1466.0 679.0 L1486.8 646.0 L1508.8 611.0 L1541.8 561.0 L1574.7 510.0 L1607.7 453.0 L1651.6 371.9 L1700.0 281.8 L1717.9 249.8 L1764.6 189.3 L1814.0 126.0 L1852.5 82.2 L1880.0 78.0 L1931.5 68.5 L2022.0 57.5" fill="none" stroke="#2b83c2" stroke-width="14" stroke-linejoin="round" stroke-linecap="round"/>
<g transform="scale(1 1.3)" stroke="#000" fill="none"><rect x="266.8" y="33.31" width="1966.4" height="1207.46" stroke-width="6.4"/><line x1="266.8" y1="1240.77" x2="266.8" y2="1256.54" stroke-width="7"/><line x1="385.4" y1="1228.85" x2="385.4" y2="1240.77" stroke-width="4.6"/><line x1="454.6" y1="1228.85" x2="454.6" y2="1240.77" stroke-width="4.6"/><line x1="503.7" y1="1228.85" x2="503.7" y2="1240.77" stroke-width="4.6"/><line x1="541.8" y1="1228.85" x2="541.8" y2="1240.77" stroke-width="4.6"/><line x1="573.0" y1="1228.85" x2="573.0" y2="1240.77" stroke-width="4.6"/><line x1="599.3" y1="1228.85" x2="599.3" y2="1240.77" stroke-width="4.6"/><line x1="622.1" y1="1228.85" x2="622.1" y2="1240.77" stroke-width="4.6"/><line x1="642.2" y1="1228.85" x2="642.2" y2="1240.77" stroke-width="4.6"/><line x1="660.2" y1="1240.77" x2="660.2" y2="1256.54" stroke-width="7"/><line x1="778.6" y1="1228.85" x2="778.6" y2="1240.77" stroke-width="4.6"/><line x1="847.8" y1="1228.85" x2="847.8" y2="1240.77" stroke-width="4.6"/><line x1="896.9" y1="1228.85" x2="896.9" y2="1240.77" stroke-width="4.6"/><line x1="935.0" y1="1228.85" x2="935.0" y2="1240.77" stroke-width="4.6"/><line x1="966.2" y1="1228.85" x2="966.2" y2="1240.77" stroke-width="4.6"/><line x1="992.5" y1="1228.85" x2="992.5" y2="1240.77" stroke-width="4.6"/><line x1="1015.3" y1="1228.85" x2="1015.3" y2="1240.77" stroke-width="4.6"/><line x1="1035.4" y1="1228.85" x2="1035.4" y2="1240.77" stroke-width="4.6"/><line x1="1053.4" y1="1240.77" x2="1053.4" y2="1256.54" stroke-width="7"/><line x1="1171.8" y1="1228.85" x2="1171.8" y2="1240.77" stroke-width="4.6"/><line x1="1241.0" y1="1228.85" x2="1241.0" y2="1240.77" stroke-width="4.6"/><line x1="1290.1" y1="1228.85" x2="1290.1" y2="1240.77" stroke-width="4.6"/><line x1="1328.2" y1="1228.85" x2="1328.2" y2="1240.77" stroke-width="4.6"/><line x1="1359.4" y1="1228.85" x2="1359.4" y2="1240.77" stroke-width="4.6"/><line x1="1385.7" y1="1228.85" x2="1385.7" y2="1240.77" stroke-width="4.6"/><line x1="1408.5" y1="1228.85" x2="1408.5" y2="1240.77" stroke-width="4.6"/><line x1="1428.6" y1="1228.85" x2="1428.6" y2="1240.77" stroke-width="4.6"/><line x1="1446.6" y1="1240.77" x2="1446.6" y2="1256.54" stroke-width="7"/><line x1="1565.0" y1="1228.85" x2="1565.0" y2="1240.77" stroke-width="4.6"/><line x1="1634.2" y1="1228.85" x2="1634.2" y2="1240.77" stroke-width="4.6"/><line x1="1683.3" y1="1228.85" x2="1683.3" y2="1240.77" stroke-width="4.6"/><line x1="1721.4" y1="1228.85" x2="1721.4" y2="1240.77" stroke-width="4.6"/><line x1="1752.6" y1="1228.85" x2="1752.6" y2="1240.77" stroke-width="4.6"/><line x1="1778.9" y1="1228.85" x2="1778.9" y2="1240.77" stroke-width="4.6"/><line x1="1801.7" y1="1228.85" x2="1801.7" y2="1240.77" stroke-width="4.6"/><line x1="1821.8" y1="1228.85" x2="1821.8" y2="1240.77" stroke-width="4.6"/><line x1="1839.8" y1="1240.77" x2="1839.8" y2="1256.54" stroke-width="7"/><line x1="1958.2" y1="1228.85" x2="1958.2" y2="1240.77" stroke-width="4.6"/><line x1="2027.4" y1="1228.85" x2="2027.4" y2="1240.77" stroke-width="4.6"/><line x1="2076.5" y1="1228.85" x2="2076.5" y2="1240.77" stroke-width="4.6"/><line x1="2114.6" y1="1228.85" x2="2114.6" y2="1240.77" stroke-width="4.6"/><line x1="2145.8" y1="1228.85" x2="2145.8" y2="1240.77" stroke-width="4.6"/><line x1="2172.1" y1="1228.85" x2="2172.1" y2="1240.77" stroke-width="4.6"/><line x1="2194.9" y1="1228.85" x2="2194.9" y2="1240.77" stroke-width="4.6"/><line x1="2215.0" y1="1228.85" x2="2215.0" y2="1240.77" stroke-width="4.6"/><line x1="2233.2" y1="1240.77" x2="2233.2" y2="1256.54" stroke-width="7"/></g>
<text transform="translate(234.0 83.0) scale(1 1.02)" font-size="83.5" text-anchor="end">100</text>
<text transform="translate(244.0 396.3) scale(1 1.02)" font-size="83.5" text-anchor="end">80</text>
<text transform="translate(244.0 710.0) scale(1 1.02)" font-size="83.5" text-anchor="end">60</text>
<text transform="translate(244.0 1023.3) scale(1 1.02)" font-size="83.5" text-anchor="end">40</text>
<text transform="translate(244.0 1336.3) scale(1 1.02)" font-size="83.5" text-anchor="end">20</text>
<text transform="translate(229.0 1651.0) scale(1 1.02)" font-size="83.5" text-anchor="end">0</text>
<text transform="translate(317.0 1742.6) scale(1 1.02)" font-size="83.5" text-anchor="middle">0.001</text>
<text transform="translate(698.0 1742.6) scale(1 1.02)" font-size="83.5" text-anchor="middle">0.01</text>
<text transform="translate(1080.0 1742.6) scale(1 1.02)" font-size="83.5" text-anchor="middle">0.1</text>
<text transform="translate(1459.0 1742.6) scale(1 1.02)" font-size="83.5" text-anchor="middle">1</text>
<text transform="translate(1869.0 1742.6) scale(1 1.02)" font-size="83.5" text-anchor="middle">10</text>
<text transform="translate(2271.0 1742.6) scale(1 1.02)" font-size="83.5" text-anchor="middle">100</text>
<text x="0" y="0" font-size="87" text-anchor="middle" transform="translate(93,864) rotate(-90) scale(1 0.965)">Percent passing (%)</text>
<text transform="translate(1280.0 1988.5) scale(1 0.935)" font-size="86.7" text-anchor="middle">Particle size (mm)</text>
<line x1="273.6" y1="1770.5" x2="2232" y2="1770.5" stroke="#000" stroke-width="4.5"/>
<line x1="273.6" y1="1880" x2="2232" y2="1880" stroke="#000" stroke-width="4.5"/>
<line x1="389.5" y1="1775" x2="389.5" y2="1880" stroke="#000" stroke-width="4"/>
<line x1="972.3" y1="1775" x2="972.3" y2="1880" stroke="#000" stroke-width="4"/>
<line x1="1567.0" y1="1775" x2="1567.0" y2="1880" stroke="#000" stroke-width="4"/>
<line x1="2145.4" y1="1775" x2="2145.4" y2="1880" stroke="#000" stroke-width="4"/>
<text transform="translate(304.5 1856.0) scale(1 0.965)" font-size="73.6" text-anchor="middle">Clay</text>
<text transform="translate(676.5 1858.0) scale(1 0.965)" font-size="73.6" text-anchor="middle">Silt</text>
<text transform="translate(1295.0 1846.5) scale(1 0.965)" font-size="73.6" text-anchor="middle">Sand</text>
<text transform="translate(1907.5 1851.5) scale(1 0.965)" font-size="73.6" text-anchor="middle">Gravel</text>
<text class="b" transform="translate(93.0 2112.0) scale(1 0.965)" font-size="67.9" text-anchor="start">1 – Coarse grained coal mine waste;</text>
<text class="b" transform="translate(95.0 2193.0) scale(1 0.965)" font-size="67.9" text-anchor="start">2 – Loose silty sand fills, Hong Kong;</text>
<text class="b" transform="translate(96.0 2274.0) scale(1 0.965)" font-size="67.9" text-anchor="start">3 – Hydraulically placed mine tailings;</text>
<text class="b" transform="translate(97.0 2355.0) scale(1 0.965)" font-size="67.9" text-anchor="start">4 – Sensitive clays;</text>
<text class="b" transform="translate(96.0 2436.0) scale(1 0.965)" font-size="67.9" text-anchor="start">5 – Sub-aqueous slopes, natural and fill slopes;</text>
<text class="b" transform="translate(223.2 2517.5) scale(1 0.965)" font-size="67.9" text-anchor="start">6 – Cervinara volcanic ashes (Damiano et al. 2012);</text>
<text class="b" transform="translate(223.2 2598.5) scale(1 0.965)" font-size="67.9" text-anchor="start">7 – Sarno volcanic ashes (present paper)</text>
<defs><filter id="sh" x="-30%" y="-100%" width="160%" height="400%"><feGaussianBlur in="SourceAlpha" stdDeviation="4.5"/><feOffset dx="0" dy="8" result="o"/><feComponentTransfer><feFuncA type="linear" slope="0.45"/></feComponentTransfer><feMerge><feMergeNode/><feMergeNode in="SourceGraphic"/></feMerge></filter></defs>
<rect x="94" y="2473" width="54" height="64.5" fill="#ffc000" stroke="#111" stroke-width="3" filter="url(#sh)"/>
<rect x="68" y="2569.8" width="118" height="12" fill="#2b83c2" filter="url(#sh)"/>
</svg>
</body>
</html>
